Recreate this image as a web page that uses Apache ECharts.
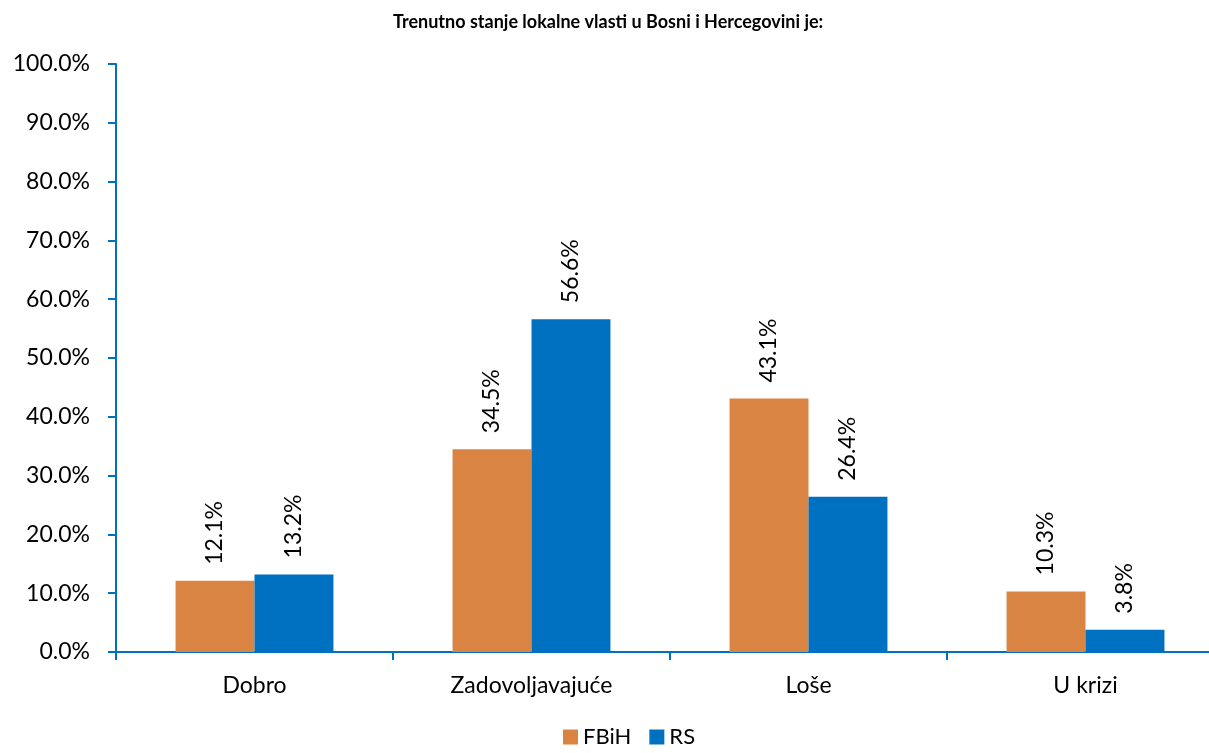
<!DOCTYPE html>
<html>
<head>
<meta charset="utf-8">
<script src="https://cdn.jsdelivr.net/npm/echarts@6/dist/echarts.min.js"></script>
<style>html,body{margin:0;padding:0;background:#fff;overflow:hidden}#c{width:1240px;height:753px}</style>
</head>
<body>
<div id="c"></div>
<script>
const titleText = 'Trenutno stanje lokalne vlasti u Bosni i Hercegovini je:';
const categories = ['Dobro', 'Zadovoljavajuće', 'Loše', 'U krizi'];
const fbih = [12.1, 34.5, 43.1, 10.3];
const rs = [13.2, 56.6, 26.4, 3.8];
const seriesNames = ['FBiH', 'RS'];

const FONT = 'Lato, "Open Sans", sans-serif';
const chart = echarts.init(document.getElementById('c'));
const labelCfg = {
  show: true, position: 'top', rotate: 90, align: 'left', verticalAlign: 'middle',
  distance: 16, fontSize: 23, fontFamily: FONT, color: '#000',
  formatter: p => p.value.toFixed(1) + '%'
};
chart.setOption({
  animation: false,
  title: {
    text: titleText, left: 388, top: 8,
    textStyle: { fontSize: 18, fontWeight: 'bold', fontFamily: FONT, color: '#000' }
  },
  legend: {
    data: seriesNames, left: 558, bottom: 0, itemWidth: 15, itemHeight: 15, itemGap: 18,
    icon: 'rect',
    textStyle: { fontSize: 22, fontFamily: FONT, color: '#000' }
  },
  grid: { left: 116, right: 16, top: 64, bottom: 101, containLabel: false },
  xAxis: {
    type: 'category', data: categories,
    axisLine: { lineStyle: { color: '#0070C0', width: 2 } },
    axisTick: { show: true, alignWithLabel: false, length: 8, inside: false, lineStyle: { color: '#0070C0', width: 2 } },
    axisLabel: { margin: 22, fontSize: 23, fontFamily: FONT, color: '#000' }
  },
  yAxis: {
    type: 'value', min: 0, max: 100, interval: 10,
    splitLine: { show: false },
    axisLine: { show: true, lineStyle: { color: '#0070C0', width: 2 } },
    axisTick: { show: true, length: 8, lineStyle: { color: '#0070C0', width: 2 } },
    axisLabel: { margin: 26, fontSize: 23, fontFamily: FONT, color: '#000', formatter: v => v.toFixed(1) + '%' }
  },
  series: [
    { name: seriesNames[0], type: 'bar', data: fbih, barGap: '0%', barCategoryGap: '43%',
      itemStyle: { color: '#D98442' }, label: labelCfg },
    { name: seriesNames[1], type: 'bar', data: rs, barGap: '0%', barCategoryGap: '43%',
      itemStyle: { color: '#0070C0' }, label: labelCfg }
  ]
});
</script>
</body>
</html>
